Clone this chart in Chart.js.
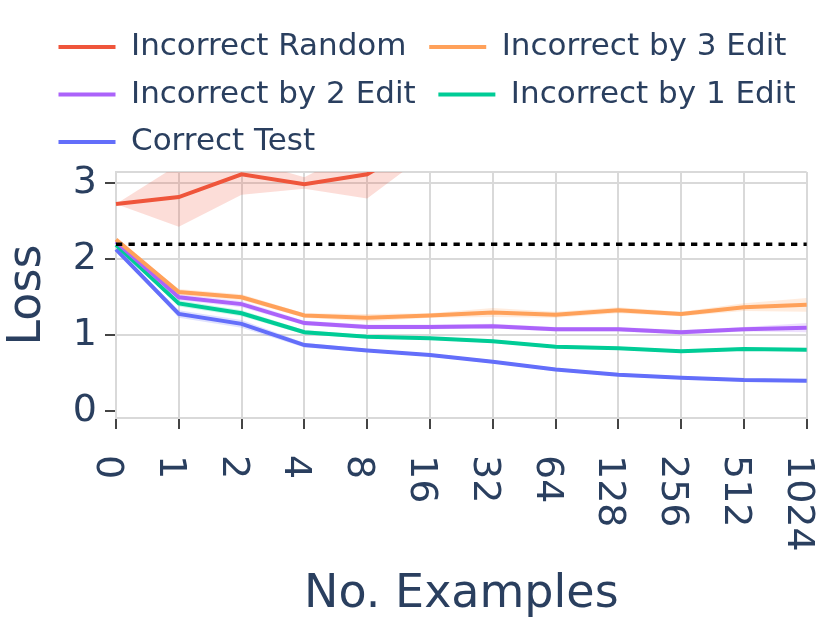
<!DOCTYPE html>
<html>
<head>
<meta charset="utf-8">
<script src="https://cdn.jsdelivr.net/npm/chart.js@4.4.1/dist/chart.umd.min.js"></script>
<style>
html,body{margin:0;padding:0;background:#ffffff;}
#wrap{width:833px;height:625px;position:relative;}
</style>
</head>
<body>
<div id="wrap"><canvas id="c"></canvas></div>
<script>
// ---- data ----
const categories = ['0','1','2','4','8','16','32','64','128','256','512','1024'];
const yTickValues = [0, 1, 2, 3];
const chanceLoss = 2.2;

const randomMean = [2.73, 2.82, 3.12, 2.99, 3.12, 3.60, 3.75, 3.85, 3.95, 4.00, 4.05, 4.10];
const randomLow  = [2.73, 2.43, 2.85, 2.93, 2.80, 3.42, 3.50, 3.60, 3.70, 3.75, 3.80, 3.85];
const randomHigh = [2.73, 3.25, 3.32, 3.08, 3.50, 3.80, 4.00, 4.10, 4.20, 4.25, 4.30, 4.35];

const edit3Mean = [2.26, 1.57, 1.50, 1.26, 1.23, 1.26, 1.30, 1.27, 1.33, 1.28, 1.37, 1.40];
const edit3Low  = [2.26, 1.53, 1.46, 1.23, 1.18, 1.23, 1.24, 1.23, 1.29, 1.25, 1.32, 1.31];
const edit3High = [2.26, 1.61, 1.54, 1.29, 1.28, 1.29, 1.36, 1.31, 1.37, 1.31, 1.42, 1.49];

const edit2Mean = [2.23, 1.50, 1.41, 1.16, 1.11, 1.11, 1.12, 1.08, 1.08, 1.04, 1.08, 1.10];
const edit2Low  = [2.23, 1.46, 1.37, 1.13, 1.08, 1.08, 1.09, 1.05, 1.05, 1.01, 1.05, 1.04];
const edit2High = [2.23, 1.54, 1.45, 1.19, 1.14, 1.14, 1.15, 1.11, 1.11, 1.07, 1.11, 1.16];

const edit1Mean = [2.19, 1.42, 1.29, 1.04, 0.98, 0.96, 0.92, 0.85, 0.83, 0.79, 0.82, 0.81];
const edit1Low  = [2.19, 1.38, 1.25, 1.01, 0.96, 0.94, 0.90, 0.83, 0.81, 0.77, 0.80, 0.79];
const edit1High = [2.19, 1.46, 1.33, 1.07, 1.00, 0.98, 0.94, 0.87, 0.85, 0.81, 0.84, 0.83];

const correctMean = [2.13, 1.28, 1.15, 0.87, 0.80, 0.74, 0.65, 0.55, 0.48, 0.44, 0.41, 0.40];
const correctLow  = [2.13, 1.23, 1.10, 0.84, 0.78, 0.72, 0.63, 0.53, 0.46, 0.42, 0.39, 0.38];
const correctHigh = [2.13, 1.33, 1.20, 0.90, 0.82, 0.76, 0.67, 0.57, 0.50, 0.46, 0.43, 0.42];

const seriesNames = ['Incorrect Random', 'Incorrect by 3 Edit', 'Incorrect by 2 Edit', 'Incorrect by 1 Edit', 'Correct Test'];
const seriesColors = ['#EF553B', '#FFA15A', '#AB63FA', '#00CC96', '#636EFA'];
const bandColors = ['rgba(239,85,59,0.2)', 'rgba(255,161,90,0.2)', 'rgba(171,99,250,0.2)', 'rgba(0,204,150,0.2)', 'rgba(99,110,250,0.2)'];

const means = [randomMean, edit3Mean, edit2Mean, edit1Mean, correctMean];
const lows = [randomLow, edit3Low, edit2Low, edit1Low, correctLow];
const highs = [randomHigh, edit3High, edit2High, edit1High, correctHigh];

// ---- styles ----
const textColor = '#2a3f5f';
const gridColor = '#d9d9d9';
const tickMarkColor = '#444444';
const FONT = "'DejaVu Sans', sans-serif";

Chart.defaults.font.family = FONT;
Chart.defaults.color = textColor;

const datasets = [];
for (let i = 0; i < seriesNames.length; i++) {
  datasets.push({
    label: seriesNames[i],
    data: means[i],
    borderColor: seriesColors[i],
    backgroundColor: seriesColors[i],
    borderWidth: 4,
    pointRadius: 0,
    fill: false,
    tension: 0,
    order: i
  });
}
for (let i = 0; i < seriesNames.length; i++) {
  datasets.push({
    label: '_low' + i,
    data: lows[i],
    borderColor: 'rgba(0,0,0,0)',
    borderWidth: 0,
    pointRadius: 0,
    fill: false,
    order: 20 + i
  });
  datasets.push({
    label: '_high' + i,
    data: highs[i],
    borderColor: 'rgba(0,0,0,0)',
    backgroundColor: bandColors[i],
    borderWidth: 0,
    pointRadius: 0,
    fill: '-1',
    order: 20 + i
  });
}

const framePlugin = {
  id: 'frame',
  afterLayout(chart) {
    const lg = chart.legend;
    if (lg) {
      lg.left += 42; lg.right += 42;
      lg.top -= 4.5; lg.bottom -= 4.5;
    }
  },
  beforeDatasetsDraw(chart) {
    const {ctx, chartArea} = chart;
    ctx.save();
    ctx.strokeStyle = gridColor;
    ctx.lineWidth = 2;
    ctx.beginPath();
    ctx.moveTo(chartArea.left, chartArea.top);
    ctx.lineTo(chartArea.right, chartArea.top);
    ctx.stroke();
    ctx.restore();
  },
  afterDatasetsDraw(chart) {
    const {ctx, chartArea, scales} = chart;
    const y = scales.y.getPixelForValue(chanceLoss);
    ctx.save();
    ctx.strokeStyle = '#000000';
    ctx.lineWidth = 3.5;
    ctx.setLineDash([6.3, 6.2]);
    ctx.beginPath();
    ctx.moveTo(chartArea.left, y);
    ctx.lineTo(chartArea.right, y);
    ctx.stroke();
    ctx.restore();
  },
  afterDraw(chart) {
    const {ctx, scales} = chart;
    const xs = scales.x;
    ctx.save();
    ctx.fillStyle = textColor;
    ctx.font = "38px " + FONT;
    ctx.textAlign = 'left';
    ctx.textBaseline = 'alphabetic';
    xs.ticks.forEach((t, i) => {
      const px = xs.getPixelForTick(i);
      ctx.save();
      ctx.translate(px, xs.top + 37);
      ctx.rotate(Math.PI / 2);
      ctx.fillText(xs.getLabelForValue(t.value), 0, 19);
      ctx.restore();
    });
    ctx.restore();
  }
};

new Chart(document.getElementById('c'), {
  type: 'line',
  data: { labels: categories, datasets: datasets },
  options: {
    responsive: true,
    maintainAspectRatio: false,
    devicePixelRatio: 1,
    animation: false,
    layout: { padding: { top: 19.5, right: 26.3, bottom: 0, left: 0 } },
    plugins: {
      tooltip: { enabled: false },
      legend: {
        position: 'top',
        align: 'start',
        labels: {
          font: { size: 31 },
          color: textColor,
          boxWidth: 57,
          boxHeight: 4,
          padding: 16.5,
          filter: (item) => !item.text.startsWith('_'),
          generateLabels: (chart) => {
            const items = Chart.defaults.plugins.legend.labels.generateLabels(chart);
            items.forEach(it => {
              it.lineWidth = 0;
              it.fillStyle = it.strokeStyle;
              if (!it.text.startsWith('_')) it.text = it.text + '\u2009';
            });
            return items;
          }
        }
      }
    },
    scales: {
      x: {
        type: 'category',
        offset: false,
        afterFit(scale) { scale.height = 207; },
        grid: {
          color: gridColor,
          lineWidth: 2,
          drawTicks: true,
          tickLength: 11,
          tickColor: tickMarkColor,
          tickWidth: 2
        },
        border: { display: true, color: gridColor, width: 2 },
        ticks: { display: false },
        title: {
          display: true,
          text: 'No. Examples',
          color: textColor,
          font: { size: 46, lineHeight: 1 },
          padding: { top: 0, bottom: 6.5 }
        }
      },
      y: {
        min: -0.09,
        max: 3.15,
        afterFit(scale) { scale.width = 116; },
        afterBuildTicks(scale) { scale.ticks = yTickValues.map(v => ({ value: v })); },
        grid: {
          color: (c) => (c.tick && c.tick.value === 0) ? 'rgba(0,0,0,0)' : gridColor,
          lineWidth: 2,
          drawTicks: true,
          tickLength: 11,
          tickColor: tickMarkColor,
          tickWidth: 2
        },
        border: { display: true, color: gridColor, width: 2 },
        ticks: {
          color: textColor,
          font: { size: 38 },
          padding: 8
        },
        title: {
          display: true,
          text: 'Loss',
          color: textColor,
          font: { size: 46, lineHeight: 1 },
          padding: { top: 5, bottom: 0 }
        }
      }
    }
  },
  plugins: [framePlugin]
});
</script>
</body>
</html>
